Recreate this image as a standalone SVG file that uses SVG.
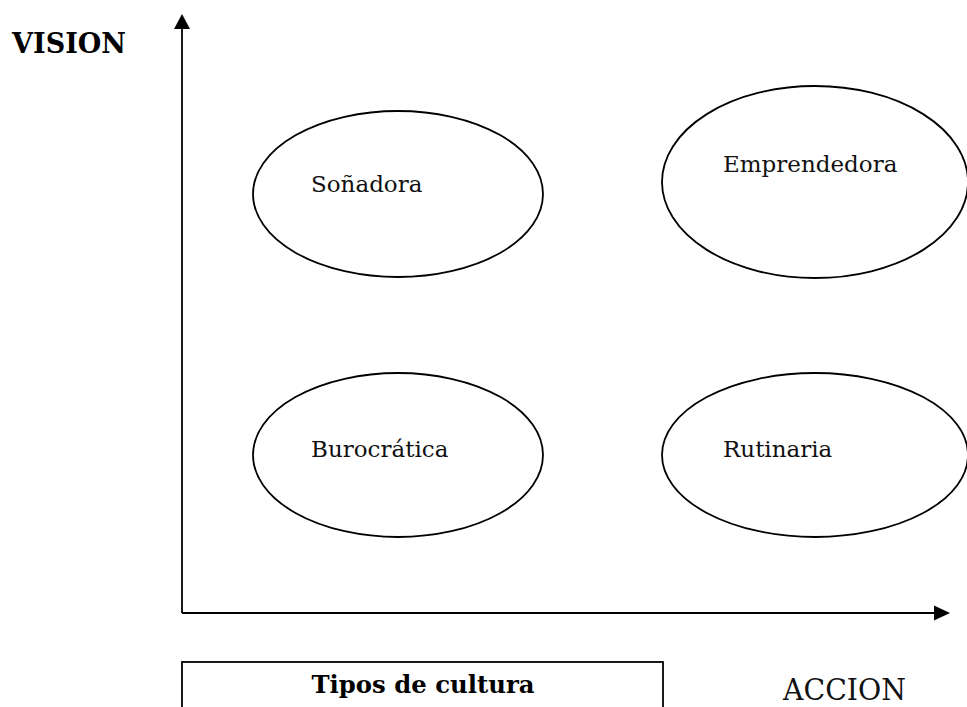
<svg xmlns="http://www.w3.org/2000/svg" width="967" height="707" viewBox="0 0 967 707">
<style>
.node ellipse{fill:#fff;stroke:#000;stroke-width:1.8}
.lbl{font-family:"DejaVu Serif","Liberation Serif",serif;font-size:23px;fill:#111}
.axis{stroke:#000;stroke-width:1.8;fill:none}
.head{fill:#000}
.bold{font-family:"DejaVu Serif","Liberation Serif",serif;font-weight:bold;fill:#000}
</style>
<rect width="967" height="707" fill="#fff"/>
<g id="connectors">
<line class="axis" x1="182" y1="613" x2="182" y2="28"/>
<polygon class="head" points="182,14 174,29 190,29"/>
<line class="axis" x1="182" y1="613" x2="935" y2="613"/>
<polygon class="head" points="950,613 934,605.5 934,620.5"/>
</g>
<text class="bold" x="126" y="53" font-size="27" text-anchor="end">VISION</text>
<g id="sonadora" class="node">
<ellipse cx="398" cy="194" rx="145" ry="83"/>
<text class="lbl" x="311" y="192">Soñadora</text>
</g>
<g id="emprendedora" class="node">
<ellipse cx="815" cy="182" rx="153" ry="96"/>
<text class="lbl" x="723" y="172">Emprendedora</text>
</g>
<g id="burocratica" class="node">
<ellipse cx="398" cy="455" rx="145" ry="82"/>
<text class="lbl" x="311" y="457">Burocrática</text>
</g>
<g id="rutinaria" class="node">
<ellipse cx="815" cy="455" rx="153" ry="82"/>
<text class="lbl" x="723" y="457">Rutinaria</text>
</g>
<g id="legend">
<rect x="182" y="662" width="481" height="60" fill="#fff" stroke="#000" stroke-width="1.8"/>
<text class="bold" x="423" y="693" font-size="24" text-anchor="middle" textLength="223" lengthAdjust="spacingAndGlyphs">Tipos de cultura</text>
</g>
<text x="783" y="700" font-family="'DejaVu Serif','Liberation Serif',serif" font-size="29" fill="#111" textLength="123" lengthAdjust="spacingAndGlyphs">ACCION</text>
</svg>
